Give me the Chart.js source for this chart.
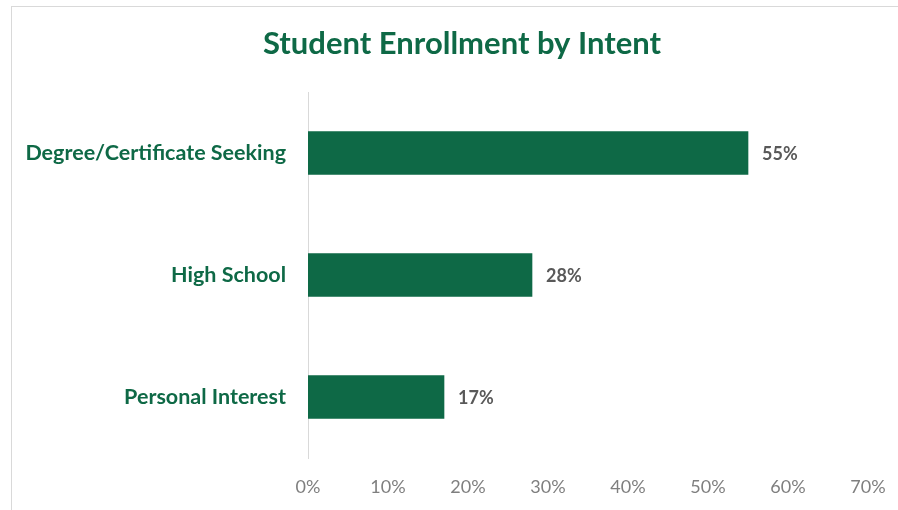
<!DOCTYPE html>
<html>
<head>
<meta charset="utf-8">
<script src="https://cdn.jsdelivr.net/npm/chart.js@4/dist/chart.umd.min.js"></script>
<style>
  html, body { margin: 0; padding: 0; background: #fff; overflow: hidden; }
  #frame {
    position: absolute; left: 11px; top: 6px;
    width: 1000px; height: 600px;
    border: 1px solid #d9d9d9;
  }
  #wrap { position: absolute; left: 0; top: 0; width: 898px; height: 510px; }
</style>
</head>
<body>
<div id="frame"></div>
<div id="wrap"><canvas id="intentChart"></canvas></div>
<script>
const categories = ["Degree/Certificate Seeking", "High School", "Personal Interest"];
const shares = [0.55, 0.28, 0.17];
const shareLabels = ["55%", "28%", "17%"];
const chartTitle = "Student Enrollment by Intent";

const green = "#0e6946";
const fontFamily = "Lato, 'Open Sans', sans-serif";

// percentage just past the end of each bar, plus the heading (centred on the frame, not the canvas)
const annotations = {
    id: 'annotations',
    afterDatasetsDraw(chart) {
        const ctx = chart.ctx;
        const meta = chart.getDatasetMeta(0);
        ctx.save();
        ctx.font = "bold 18px " + fontFamily;
        ctx.fillStyle = "#595959";
        ctx.textAlign = "left";
        ctx.textBaseline = "middle";
        meta.data.forEach((bar, i) => {
            ctx.fillText(shareLabels[i], bar.x + 14, bar.y + 1);
        });

        ctx.font = "bold 31px " + fontFamily;
        ctx.fillStyle = green;
        ctx.textAlign = "center";
        ctx.fillText(chartTitle, 462, 44);
        ctx.restore();
    }
};

const ctx = document.getElementById('intentChart');
new Chart(ctx, {
    type: 'bar',
    data: {
        labels: categories,
        datasets: [{
            data: shares,
            backgroundColor: green,
            borderWidth: 0,
            barThickness: 43
        }]
    },
    options: {
        indexAxis: 'y',
        responsive: true,
        maintainAspectRatio: false,
        animation: false,
        layout: { padding: { left: 0, right: 30, top: 92, bottom: 0 } },
        plugins: {
            legend: { display: false },
            tooltip: { enabled: false },
            title: { display: false }
        },
        scales: {
            x: {
                min: 0,
                max: 0.7,
                grid: { display: false, drawTicks: false },
                border: { display: false },
                afterFit: scale => {
                    scale.height = 52;
                    scale.paddingRight = 0;
                    scale.paddingLeft = 0;
                },
                ticks: {
                    stepSize: 0.1,
                    padding: 18,
                    color: "#7f7f7f",
                    font: { family: fontFamily, size: 18 },
                    callback: v => Math.round(v * 100) + "%"
                }
            },
            y: {
                grid: { display: false, drawTicks: false },
                border: { display: true, color: "#d9d9d9", width: 1 },
                afterFit: scale => { scale.width = 308; },
                ticks: {
                    padding: 22,
                    color: green,
                    font: { family: fontFamily, size: 21.5, weight: 'bold' }
                }
            }
        }
    },
    plugins: [annotations]
});
</script>
</body>
</html>
